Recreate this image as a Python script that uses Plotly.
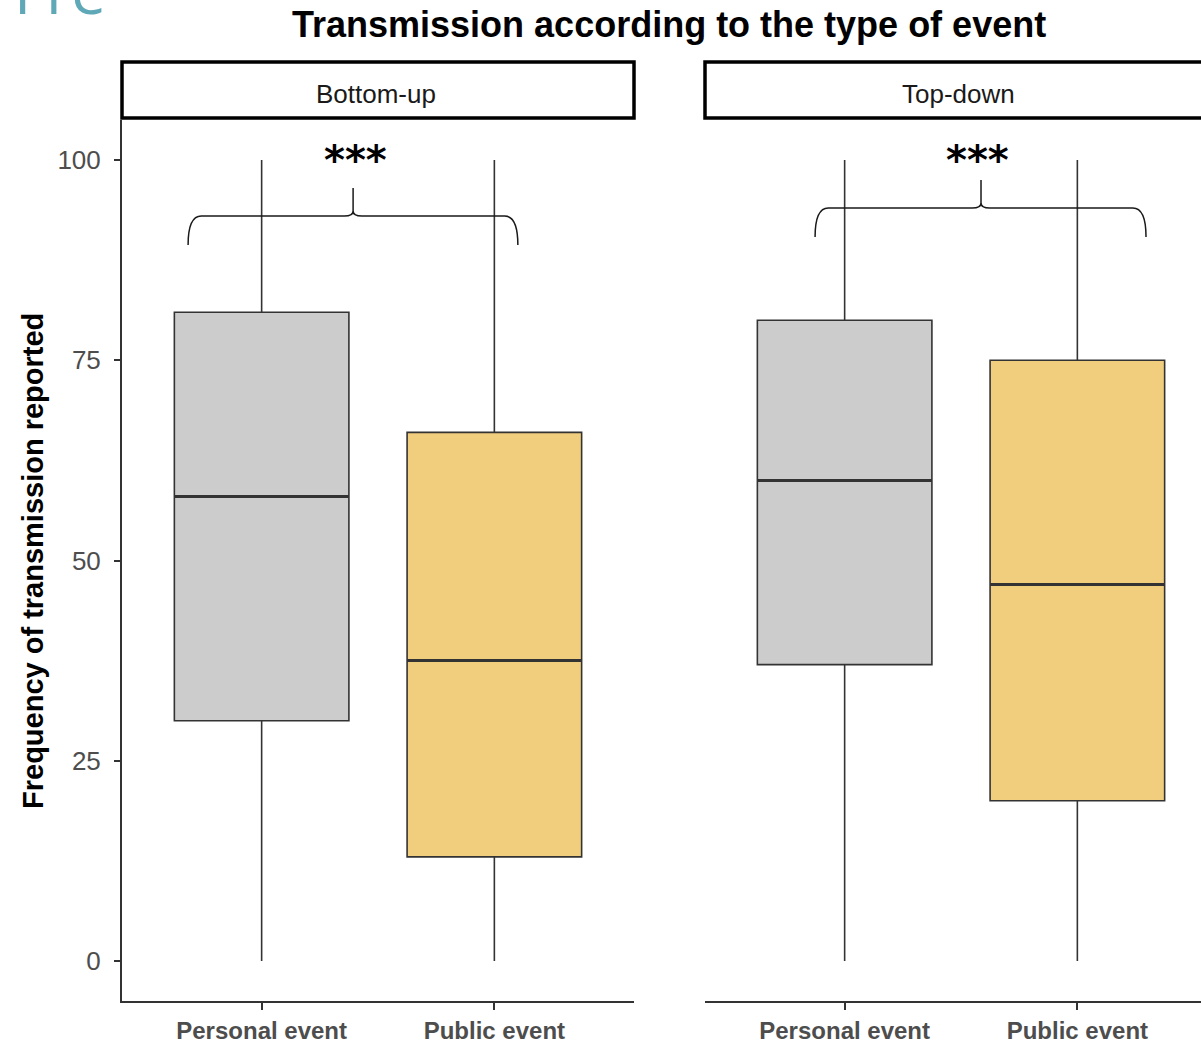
import plotly.graph_objects as go

# ---- data -------------------------------------------------------------
panels = ["Bottom-up", "Top-down"]
categories = ["Personal event", "Public event"]

# five-number summaries per panel (Personal, Public)
lower_fence = {"Bottom-up": [0, 0], "Top-down": [0, 0]}
q1_vals = {"Bottom-up": [30, 13], "Top-down": [37, 20]}
median_vals = {"Bottom-up": [58, 37.5], "Top-down": [60, 47]}
q3_vals = {"Bottom-up": [81, 66], "Top-down": [80, 75]}
upper_fence = {"Bottom-up": [100, 100], "Top-down": [100, 100]}

fill_colors = ["#CCCCCC", "#F0CE7E"]
y_ticks = [0, 25, 50, 75, 100]
signif_label = "***"

# brace spans in x-axis units: (start, end, centre, level)
braces = {"Bottom-up": (0.684, 2.101, 1.393, 93.0),
          "Top-down": (0.873, 2.295, 1.586, 94.0)}
# where the significance stars sit (x-axis units, y value)
star_pos = {"Bottom-up": (1.405, 100.0), "Top-down": (1.569, 100.0)}

# ---- figure geometry --------------------------------------------------
W, H = 1201, 1045
BOX_W = 0.75
EDGE = "#333333"
TICK_COL = "#4D4D4D"

fig = go.Figure()

axis_names = [("x", "y"), ("x2", "y2")]
for p, (xa, ya) in zip(panels, axis_names):
    for i, cat in enumerate(categories):
        fig.add_trace(go.Box(
            x=[i + 1],
            q1=[q1_vals[p][i]], median=[median_vals[p][i]], q3=[q3_vals[p][i]],
            lowerfence=[lower_fence[p][i]], upperfence=[upper_fence[p][i]],
            width=BOX_W, whiskerwidth=0, boxpoints=False,
            fillcolor=fill_colors[i], line=dict(color=EDGE, width=1.6),
            xaxis=xa, yaxis=ya, showlegend=False, hoverinfo="skip",
        ))
        # thicker median bar
        fig.add_shape(type="line", xref=xa, yref=ya,
                      x0=i + 1 - BOX_W / 2, x1=i + 1 + BOX_W / 2,
                      y0=median_vals[p][i], y1=median_vals[p][i],
                      line=dict(color=EDGE, width=3), layer="above")

# panel placement (pixels)
left_px = (122, 634)
right_px = (705, 1217)
plot_top, plot_bot = 120, 1001
px_per_unit = (right_px[1] - right_px[0]) / 2.2
right_visible = (W - right_px[0]) / px_per_unit

y_dom = [1 - plot_bot / H, 1 - plot_top / H]

common_x = dict(tickmode="array", tickvals=[1, 2], ticktext=categories,
                showline=True, linecolor=EDGE, linewidth=2,
                ticks="outside", ticklen=7, tickcolor=EDGE, tickwidth=1.5,
                tickfont=dict(family="Liberation Sans", size=24, color=TICK_COL,
                              weight="bold"),
                showgrid=False, zeroline=False, fixedrange=True)

fig.update_layout(
    width=W, height=H,
    margin=dict(l=0, r=0, t=0, b=0),
    paper_bgcolor="white", plot_bgcolor="white",
    xaxis=dict(domain=[left_px[0] / W, left_px[1] / W], range=[0.4, 2.6],
               anchor="y", **common_x),
    xaxis2=dict(domain=[right_px[0] / W, 1], range=[0.4, 0.4 + right_visible],
                anchor="y2", **common_x),
    yaxis=dict(domain=y_dom, range=[-5, 105], tickvals=y_ticks,
               showline=True, linecolor=EDGE, linewidth=2,
               ticks="outside", ticklen=6, tickcolor=EDGE, tickwidth=1.5,
               ticklabelstandoff=8,
               tickfont=dict(family="Liberation Sans", size=26, color=TICK_COL),
               showgrid=False, zeroline=False, fixedrange=True),
    yaxis2=dict(domain=y_dom, range=[-5, 105], anchor="x2",
                showline=False, showticklabels=False, ticks="",
                showgrid=False, zeroline=False, fixedrange=True),
    font=dict(family="Liberation Sans"),
)

# strip headers
strip_top, strip_bot = 62, 118
for p, (a, b) in zip(panels, [left_px, right_px]):
    fig.add_shape(type="rect", xref="paper", yref="paper",
                  x0=a / W, x1=b / W, y0=1 - strip_bot / H, y1=1 - strip_top / H,
                  line=dict(color="black", width=3.5), fillcolor="white")
    fig.add_annotation(x=(a + b) / 2 / W - 2 / W,
                       y=1 - ((strip_top + strip_bot) / 2 + 4) / H,
                       xref="paper", yref="paper", text=p, showarrow=False,
                       xanchor="center", yanchor="middle",
                       font=dict(family="Liberation Sans", size=26, color="#1A1A1A"))

# significance braces with asterisks
for p, (xa, ya) in zip(panels, axis_names):
    x0, x1, xc, yl = braces[p]
    ux = 2.2 / px_per_unit          # one pixel in x units
    uy = 110 / (plot_bot - plot_top)  # one pixel in y units
    drop, rise = 29 * uy, 28 * uy
    r = 6 * ux
    path = (f"M {x0},{yl - drop} "
            f"Q {x0},{yl} {x0 + r},{yl} "
            f"L {xc - 4 * ux},{yl} "
            f"Q {xc},{yl} {xc},{yl + 5 * uy} "
            f"L {xc},{yl + rise} "
            f"M {xc},{yl + 5 * uy} "
            f"Q {xc},{yl} {xc + 4 * ux},{yl} "
            f"L {x1 - r},{yl} "
            f"Q {x1},{yl} {x1},{yl - drop}")
    fig.add_shape(type="path", path=path, xref=xa, yref=ya,
                  line=dict(color="#1A1A1A", width=1.5), layer="above")
    sx, sy = star_pos[p]
    fig.add_annotation(x=sx, y=sy, xref=xa, yref=ya,
                       text=f"<b>{signif_label}</b>", showarrow=False,
                       xanchor="center", yanchor="middle",
                       font=dict(family="DejaVu Sans", size=40, color="black"))

# title
fig.add_annotation(x=669 / W, y=1 - 24 / H, xref="paper", yref="paper",
                   text="<b>Transmission according to the type of event</b>",
                   showarrow=False, xanchor="center", yanchor="middle",
                   font=dict(family="Liberation Sans", size=36, color="black"))

# y-axis title
fig.add_annotation(x=33 / W, y=1 - 561 / H, xref="paper", yref="paper",
                   text="<b>Frequency of transmission reported</b>", textangle=-90,
                   showarrow=False, xanchor="center", yanchor="middle",
                   font=dict(family="Liberation Sans", size=29, color="black"))

# heading fragment at the top edge
fig.add_annotation(x=12 / W, y=1 - 15 / H, xref="paper", yref="paper",
                   text="Fre", showarrow=False, xanchor="left", yanchor="bottom",
                   yshift=-19,
                   font=dict(family="Open Sans", size=62, color="#5FA8B8"))

fig.write_html("out.html")
